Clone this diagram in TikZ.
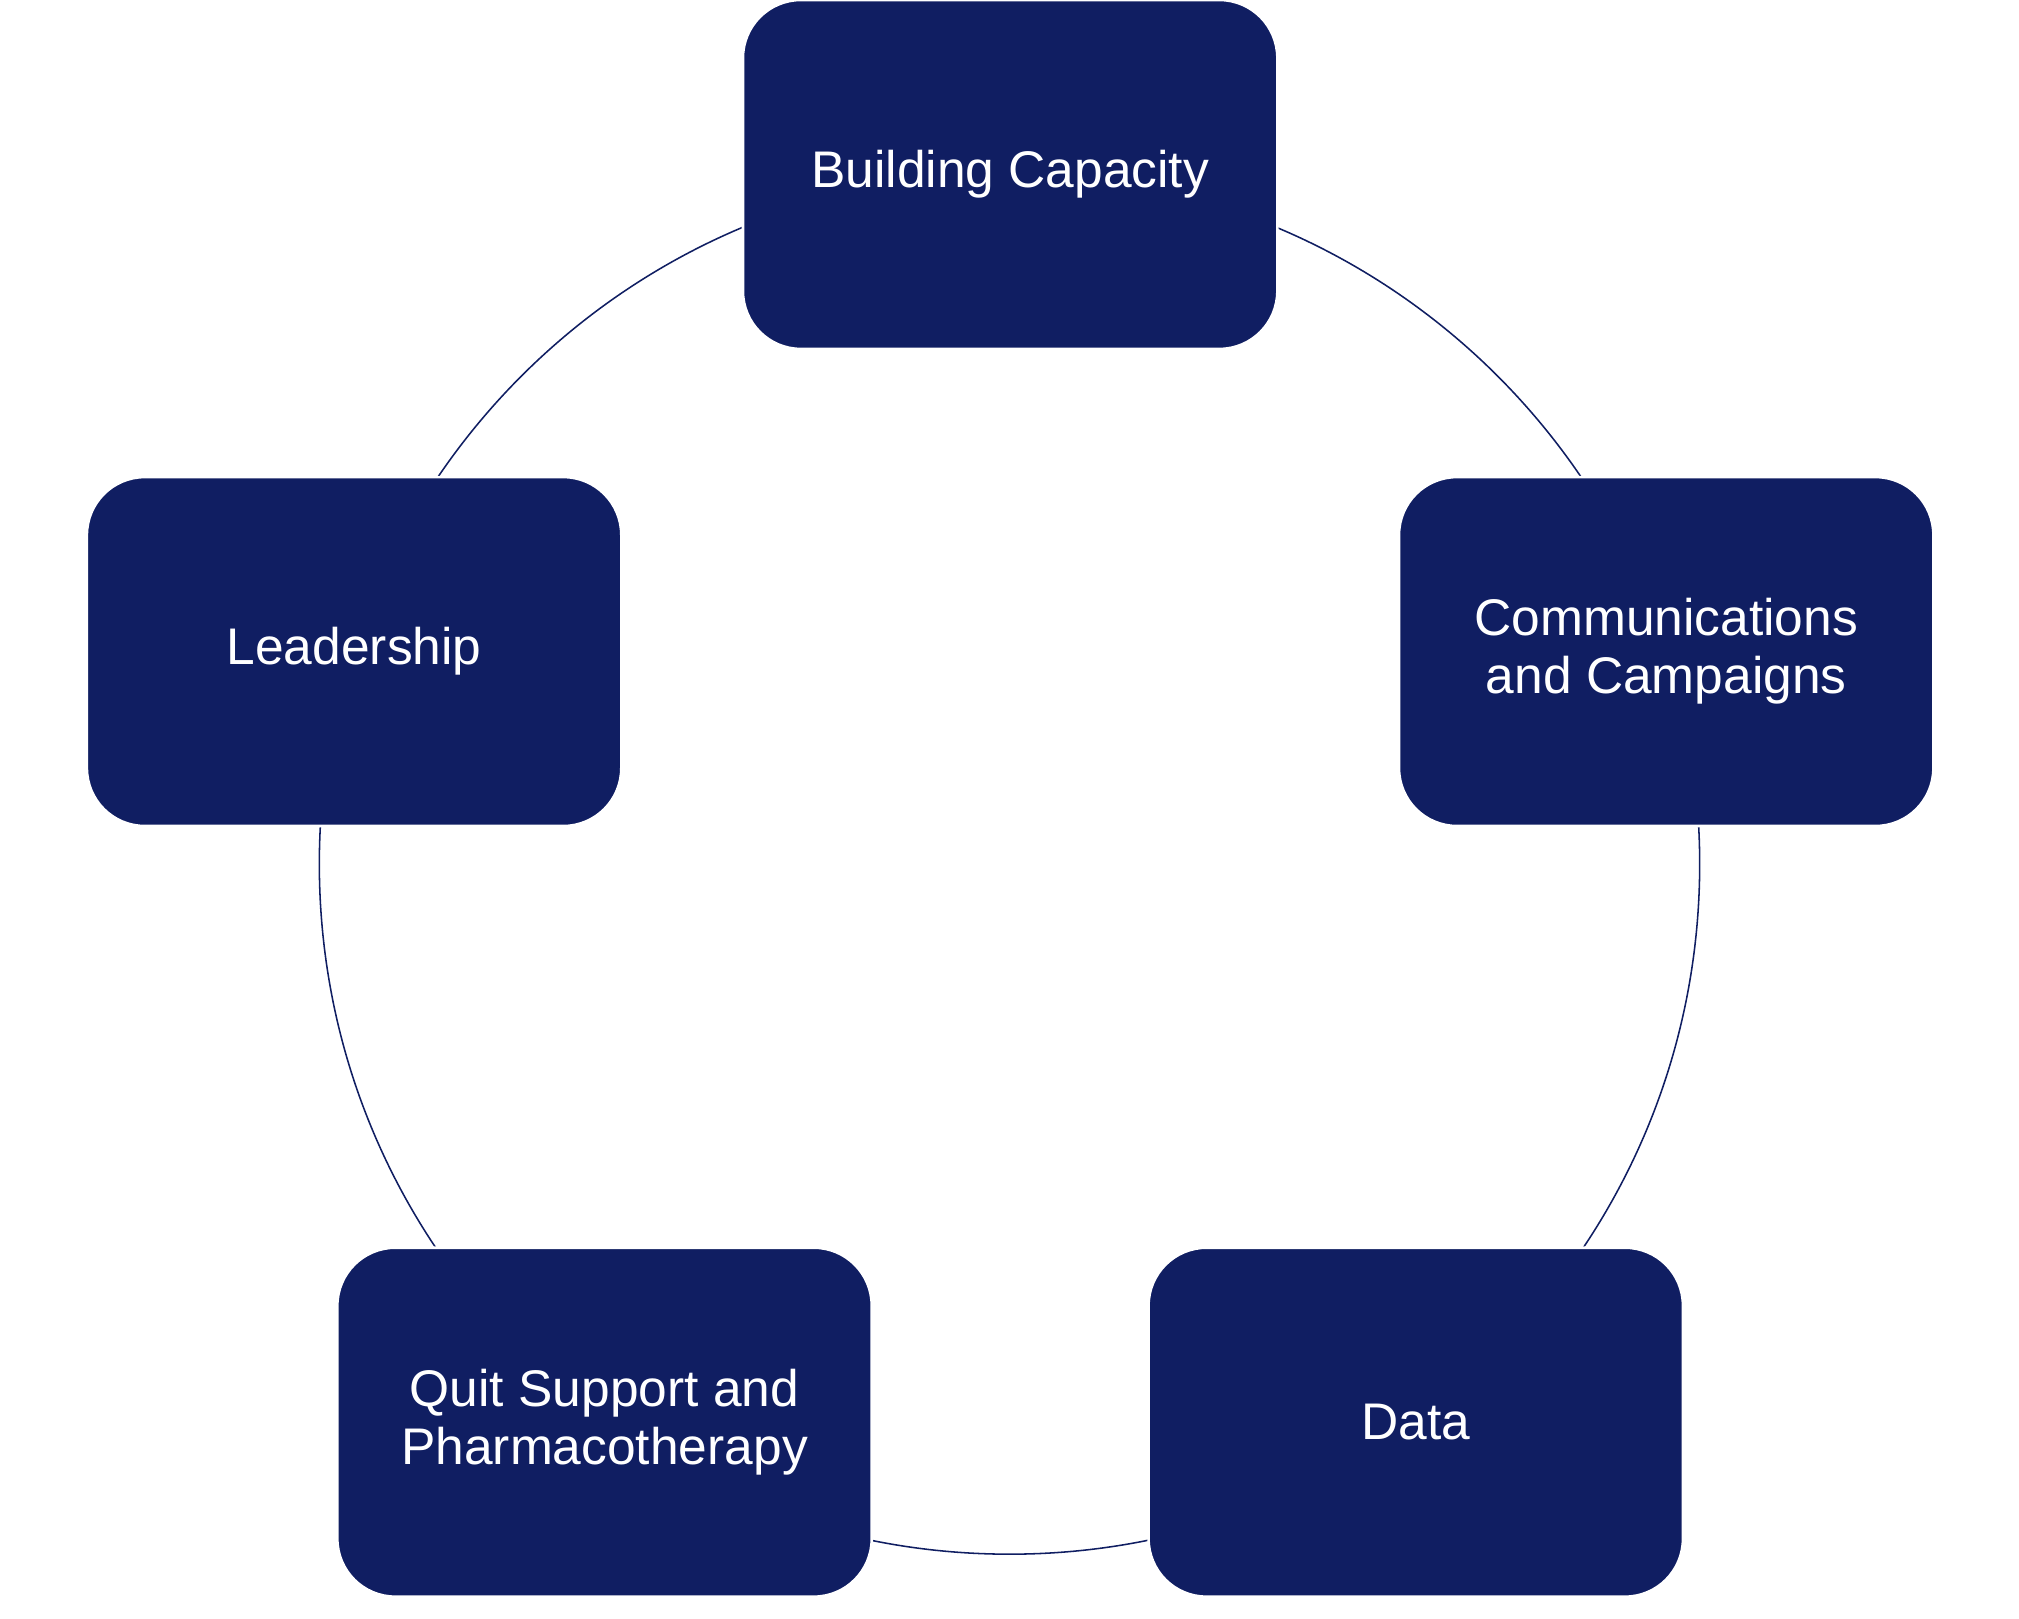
\documentclass[tikz,border=0pt]{standalone}
\usepackage{fontspec}
\setmainfont{Liberation Sans}
\definecolor{navy}{HTML}{101E62}
\begin{document}
\begin{tikzpicture}[x=0.5pt,y=-0.5pt,
  box/.style={draw=white,line width=1pt,fill=navy,rounded corners=22.5pt,minimum width=207.5pt,minimum height=135.5pt,text=white,align=center,font=\fontsize{20}{22.5}\selectfont,inner sep=0pt}]
\useasboundingbox (0,0) rectangle (1568,1257);
\draw[navy,line width=0.6pt] (784,671) circle[radius=268pt];
\node[box] (bc) at (784.5,135.5) {Building Capacity};
\node[box] (cc) at (1294,506) {Communications\\and Campaigns};
\node[box] (da) at (1099.5,1104.5) {Data};
\node[box] (qs) at (469.5,1104.5) {Quit Support and\\Pharmacotherapy};
\node[box] (le) at (275,506) {Leadership};
\end{tikzpicture}
\end{document}
